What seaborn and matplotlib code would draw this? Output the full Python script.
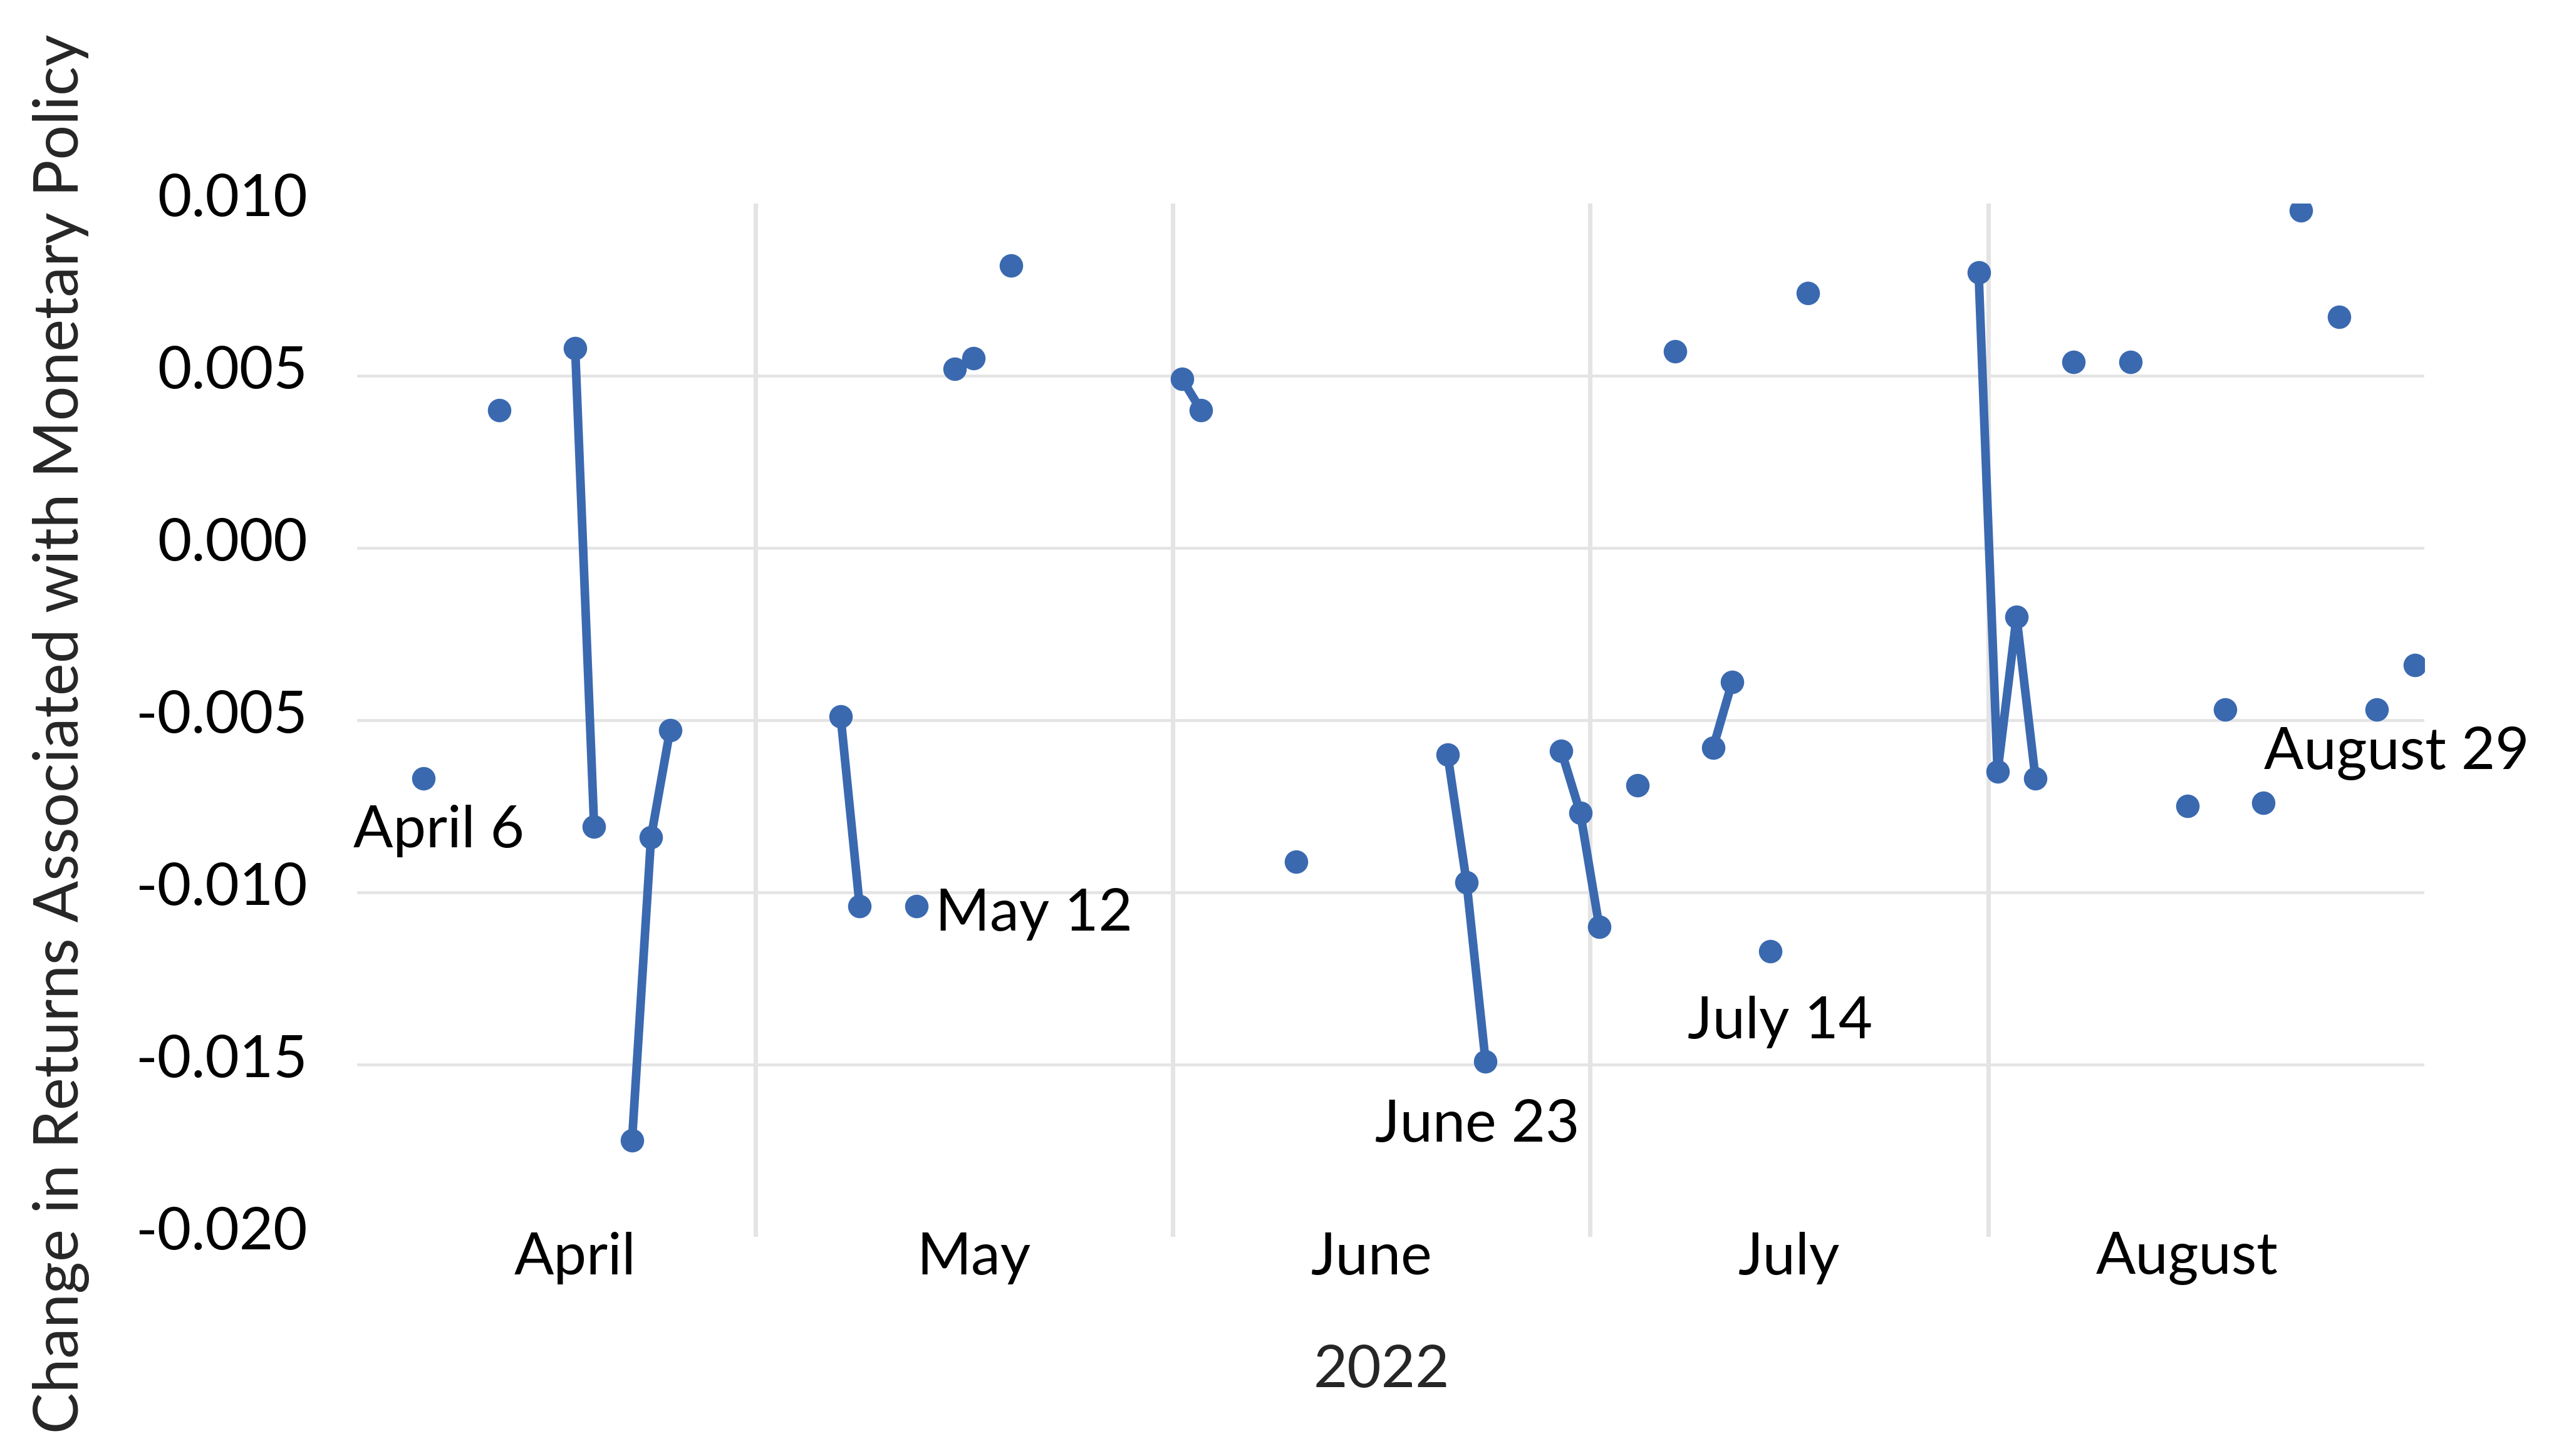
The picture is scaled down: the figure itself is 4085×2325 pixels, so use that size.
import pandas as pd
import numpy as np
import seaborn as sns
import matplotlib
matplotlib.use("Agg")
import matplotlib.pyplot as plt
from matplotlib.transforms import ScaledTranslation

# ---------------- data ----------------
# category axis: one slot per weekday, April 1 - August 31, 2022
axis_start = "2022-04-01"
axis_end = "2022-08-31"

obs_dates = [
    "2022-04-06", "2022-04-12", "2022-04-18", "2022-04-19", "2022-04-21",
    "2022-04-22", "2022-04-25",
    "2022-05-06", "2022-05-09", "2022-05-12", "2022-05-16", "2022-05-17",
    "2022-05-19",
    "2022-06-01", "2022-06-02", "2022-06-09", "2022-06-21", "2022-06-22",
    "2022-06-23", "2022-06-29", "2022-06-30",
    "2022-07-01", "2022-07-05", "2022-07-07", "2022-07-11", "2022-07-12",
    "2022-07-14", "2022-07-18", "2022-07-29",
    "2022-08-01", "2022-08-02", "2022-08-03", "2022-08-05", "2022-08-10",
    "2022-08-15", "2022-08-17", "2022-08-19", "2022-08-23", "2022-08-25",
    "2022-08-29", "2022-08-31",
]
obs_values = [
    -0.0067, 0.0040, 0.0058, -0.0081, -0.0172,
    -0.0084, -0.0053,
    -0.0049, -0.0104, -0.0104, 0.0052, 0.0055,
    0.0082,
    0.0049, 0.0040, -0.0091, -0.0060, -0.0097,
    -0.0149, -0.0059, -0.0077,
    -0.0110, -0.0069, 0.0057, -0.0058, -0.0039,
    -0.0117, 0.0074, 0.0080,
    -0.0065, -0.0020, -0.0067, 0.0054, 0.0054,
    -0.0075, -0.0047, -0.0074, 0.0098, 0.0067,
    -0.0047, -0.0034,
]

month_names = ["April", "May", "June", "July", "August"]
month_label_dates = ["2022-04-18", "2022-05-17", "2022-06-15", "2022-07-15", "2022-08-15"]

y_ticks = [0.010, 0.005, 0.000, -0.005, -0.010, -0.015, -0.020]
y_tick_labels = ["0.010", "0.005", "0.000", "-0.005", "-0.010", "-0.015", "-0.020"]

callout_dates = ["2022-04-06", "2022-05-12", "2022-06-23", "2022-07-14", "2022-08-29"]
callout_text = ["April 6", "May 12", "June 23", "July 14", "August 29"]

# ---------------- style ----------------
sns.set_style("white")
plt.rcParams["font.family"] = ["Lato", "DejaVu Sans"]
plt.rcParams["axes.unicode_minus"] = False

BLUE = "#3A69B0"
GRID = "#E4E4E4"
FS = 22.5

# ---------------- frame ----------------
days = pd.bdate_range(axis_start, axis_end)
df = pd.DataFrame({"date": days, "pos": np.arange(len(days))})
obs = pd.Series(obs_values, index=pd.to_datetime(obs_dates))
df["value"] = df["date"].map(obs)

# runs of consecutive non-missing days -> one line each (Excel leaves gaps)
present = df["value"].notna()
df["seg"] = (present != present.shift()).cumsum()
pts = df[present]

pos_of = dict(zip(df["date"], df["pos"]))

# ---------------- plot ----------------
fig = plt.figure(figsize=(4085 / 300, 2325 / 300), dpi=300)
ax = fig.add_axes([570 / 4085, 1 - 1975 / 2325, 3300 / 4085, 1650 / 2325])

for y in y_ticks[1:-1]:
    ax.axhline(y, color=GRID, linewidth=1.1, zorder=0)

month_change = df["date"].dt.month.diff().fillna(0) != 0
for p in df.loc[month_change, "pos"]:
    ax.axvline(p - 0.5, color=GRID, linewidth=1.7, zorder=0)

sns.lineplot(
    data=pts, x="pos", y="value", units="seg", estimator=None,
    color=BLUE, linewidth=3.3, marker="o", markersize=9.0,
    markeredgewidth=0, legend=False, ax=ax, zorder=3,
)

ax.set_xlim(-0.5, len(days) - 0.5)
ax.set_ylim(-0.020, 0.010)

ax.set_yticks(y_ticks)
ax.set_yticklabels(y_tick_labels)
ax.set_xticks([pos_of[pd.Timestamp(d)] for d in month_label_dates])
ax.set_xticklabels(month_names)
ax.tick_params(axis="both", length=0, labelsize=FS, colors="black")
ax.tick_params(axis="y", pad=19)
ax.tick_params(axis="x", pad=-2)

# Excel sits the value labels a little above their gridlines
lift = ScaledTranslation(0, 14 / 300, fig.dpi_scale_trans)
for lab in ax.get_yticklabels():
    lab.set_transform(lab.get_transform() + lift)

for s in ax.spines.values():
    s.set_visible(False)

ax.set_ylabel("Change in Returns Associated with Monetary Policy", fontsize=23.6)
ax.yaxis.set_label_coords(-0.1294, 0.4867)
ax.set_xlabel("2022", fontsize=FS)
ax.xaxis.set_label_coords(0.4955, -0.1043)

# callouts: (ha, dx, dy) in points from the marker
offsets = {
    "April 6": ("center", 5.8, -26.4),
    "May 12": ("left", 7.2, -9.4),
    "June 23": ("center", -3.1, -30.8),
    "July 14": ("center", 3.8, -33.5),
    "August 29": ("center", 7.6, -22.8),
}
for d, t in zip(callout_dates, callout_text):
    ts = pd.Timestamp(d)
    ha, dx, dy = offsets[t]
    ax.annotate(t, xy=(pos_of[ts], obs[ts]), xytext=(dx, dy),
                textcoords="offset points", ha=ha, va="baseline",
                fontsize=FS, color="black", annotation_clip=False)

fig.savefig("out.png", dpi=300, facecolor="white")
